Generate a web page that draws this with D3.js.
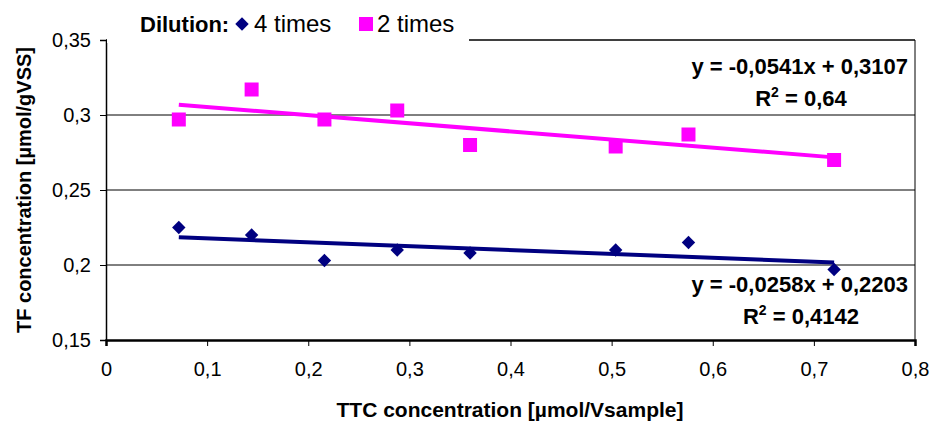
<!DOCTYPE html>
<html>
<head>
<meta charset="UTF-8">
<script src="https://d3js.org/d3.v7.min.js"></script>
<style>
  body { margin: 0; background: #fff; }
  svg { display: block; font-family: "Liberation Sans", Arial, sans-serif; }
</style>
</head>
<body>
<div id="chart"></div>
<script>
// TTC concentration values (x)
const ttc = [0.072, 0.144, 0.216, 0.288, 0.36, 0.504, 0.576, 0.72];
// TF concentration, dilution 4 times
const fourTimes = [0.225, 0.220, 0.203, 0.210, 0.208, 0.210, 0.215, 0.197];
// TF concentration, dilution 2 times
const twoTimes = [0.297, 0.317, 0.297, 0.303, 0.280, 0.279, 0.287, 0.270];
// trendline coefficients [slope, intercept]
const fitFour = [-0.0258, 0.2203];
const fitTwo = [-0.0541, 0.3107];
const xTicks = [0, 0.1, 0.2, 0.3, 0.4, 0.5, 0.6, 0.7, 0.8];
const yTicks = [0.15, 0.2, 0.25, 0.3, 0.35];

const width = 932, height = 421;
const m = { left: 106, right: 17, top: 40, bottom: 81 };
const fmt = d => String(+d.toFixed(2)).replace(".", ",");

const svg = d3.select("#chart").append("svg")
  .attr("width", width).attr("height", height);

const x = d3.scaleLinear().domain([0, 0.8]).range([m.left, width - m.right]);
const y = d3.scaleLinear().domain([0.15, 0.35]).range([height - m.bottom, m.top]);

// gridlines
svg.append("g").selectAll("line").data(yTicks.slice(1)).join("line")
  .attr("x1", x(0)).attr("x2", x(0.8))
  .attr("y1", d => y(d)).attr("y2", d => y(d))
  .attr("stroke", "#000").attr("stroke-width", 1);

// right border
svg.append("line")
  .attr("x1", x(0.8)).attr("x2", x(0.8)).attr("y1", y(0.35)).attr("y2", y(0.15))
  .attr("stroke", "#000").attr("stroke-width", 1);

// axes
const yAxis = svg.append("g").attr("transform", `translate(${x(0)},0)`)
  .call(d3.axisLeft(y).tickValues(yTicks).tickFormat(fmt).tickSize(6).tickPadding(9));
const xAxis = svg.append("g").attr("transform", `translate(0,${y(0.15)})`)
  .call(d3.axisBottom(x).tickValues(xTicks).tickFormat(fmt).tickSize(6).tickPadding(16));
[xAxis, yAxis].forEach(g => {
  g.select(".domain").attr("stroke", "#000").attr("stroke-width", 1.5);
  g.selectAll(".tick line").attr("stroke", "#000");
  g.selectAll(".tick text").attr("font-size", 20).attr("fill", "#000")
    .attr("font-family", "'Liberation Sans', Arial, sans-serif");
});
xAxis.select(".domain").attr("stroke-width", 2.5);

// trendlines and markers
const series = [
  { vals: fourTimes, fit: fitFour, color: "#000080", shape: d3.symbolDiamond2, size: 115 },
  { vals: twoTimes, fit: fitTwo, color: "#FF00FF", shape: d3.symbolSquare, size: 196 }
];
const x0 = d3.min(ttc), x1 = d3.max(ttc);
series.forEach(s => {
  svg.append("line")
    .attr("x1", x(x0)).attr("y1", y(s.fit[0] * x0 + s.fit[1]))
    .attr("x2", x(x1)).attr("y2", y(s.fit[0] * x1 + s.fit[1]))
    .attr("stroke", s.color).attr("stroke-width", 4);
});
series.forEach(s => {
  svg.append("g").selectAll("path").data(s.vals).join("path")
    .attr("transform", (d, i) => `translate(${x(ttc[i])},${y(d)})`)
    .attr("d", d3.symbol().type(s.shape).size(s.size))
    .attr("fill", s.color);
});

// equations
function equation(fit, r2, yEq) {
  const sgn = v => String(v).replace(".", ",");
  svg.append("text").attr("x", 908).attr("y", yEq)
    .attr("text-anchor", "end").attr("font-size", 22).attr("font-weight", "bold")
    .text(`y = ${sgn(fit[0])}x + ${sgn(fit[1])}`);
  const t = svg.append("text").attr("x", 801).attr("y", yEq + 32)
    .attr("text-anchor", "middle").attr("font-size", 22).attr("font-weight", "bold");
  t.append("tspan").text("R");
  t.append("tspan").attr("font-size", 14).attr("dy", -9).text("2");
  t.append("tspan").attr("dy", 9).text(" = " + r2);
}
equation(fitTwo, "0,64", 74);
equation(fitFour, "0,4142", 292);

// top border (partly covered by the legend)
svg.append("line")
  .attr("x1", x(0)).attr("x2", x(0.8)).attr("y1", y(0.35)).attr("y2", y(0.35))
  .attr("stroke", "#000").attr("stroke-width", 1);

// legend
const lg = svg.append("g");
lg.append("rect").attr("x", 107).attr("y", 5).attr("width", 362).attr("height", 38).attr("fill", "#fff");
lg.append("text").attr("x", 140).attr("y", 32).attr("font-size", 22).attr("font-weight", "bold").text("Dilution:");
lg.append("path").attr("transform", "translate(242,24)")
  .attr("d", d3.symbol().type(d3.symbolDiamond2).size(115)).attr("fill", "#000080");
lg.append("text").attr("x", 254).attr("y", 32).attr("font-size", 24).text("4 times");
lg.append("path").attr("transform", "translate(366,24)")
  .attr("d", d3.symbol().type(d3.symbolSquare).size(196)).attr("fill", "#FF00FF");
lg.append("text").attr("x", 377).attr("y", 32).attr("font-size", 24).text("2 times");

// axis titles
svg.append("text").attr("x", 510).attr("y", 417).attr("text-anchor", "middle")
  .attr("font-size", 21).attr("font-weight", "bold").text("TTC concentration [µmol/Vsample]");
svg.append("text").attr("transform", `translate(31,${(y(0.35) + y(0.15)) / 2}) rotate(-90)`)
  .attr("text-anchor", "middle").attr("font-size", 20).attr("font-weight", "bold")
  .text("TF concentration [µmol/gVSS]");
</script>
</body>
</html>
